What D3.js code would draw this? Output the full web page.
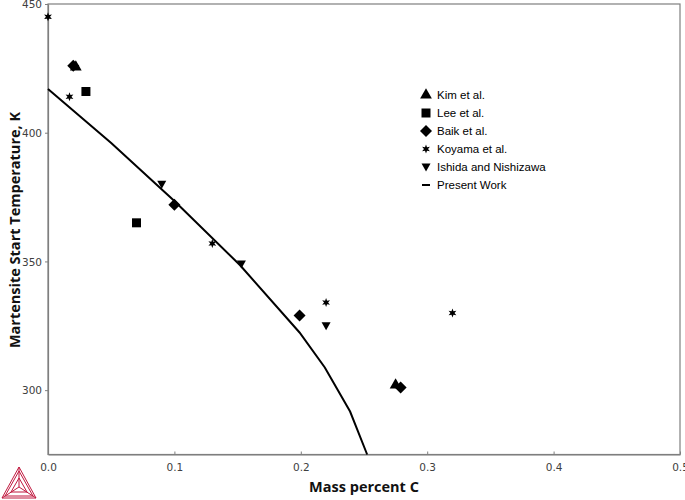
<!DOCTYPE html>
<html>
<head>
<meta charset="utf-8">
<script src="https://cdn.jsdelivr.net/npm/d3@7"></script>
<style>
  body { margin: 0; background: #fff; }
  svg { display: block; }
</style>
</head>
<body>
<svg id="chart" width="685" height="500"></svg>
<script>
// --- data (mass percent C, Ms in K)
const kim = [[0.022, 425.5], [0.275, 302]]
const lee = [[0.030, 416], [0.070, 365]]
const baik = [[0.020, 426], [0.100, 372], [0.199, 329], [0.279, 301]]
const koyama = [[0.000, 445], [0.017, 414], [0.130, 357], [0.220, 334], [0.320, 330]]
const ishida = [[0.090, 380], [0.153, 349], [0.220, 325]]
const presentWork = [[0.000, 417], [0.050, 396], [0.100, 373.5], [0.152, 348.5],
                     [0.199, 322.4], [0.219, 308.8], [0.239, 291.7], [0.2525, 275]]

const xTicks = [0, 0.1, 0.2, 0.3, 0.4, 0.5]
const yTicks = [300, 350, 400, 450]
const legendNames = ["Kim et al.", "Lee et al.", "Baik et al.", "Koyama et al.", "Ishida and Nishizawa", "Present Work"]

const svg = d3.select("#chart")
const plotLeft = 48, plotRight = 680, plotTop = 4, plotBottom = 454.5

const x = d3.scaleLinear().domain([0, 0.5]).range([plotLeft, plotRight])
const y = d3.scaleLinear().domain([275, 450]).range([plotBottom, plotTop])

// frame
svg.append("rect")
    .attr("x", plotLeft).attr("y", plotTop)
    .attr("width", plotRight - plotLeft).attr("height", plotBottom - plotTop)
    .attr("fill", "none").attr("stroke", "#7f7f7f").attr("stroke-width", 1.2)

// axes
const xAxis = d3.axisBottom(x).tickValues(xTicks).tickFormat(d3.format(".1f"))
    .tickSizeInner(-3).tickSizeOuter(0).tickPadding(9)
const gx = svg.append("g").attr("transform", `translate(0,${plotBottom})`).call(xAxis)

const yAxis = d3.axisLeft(y).tickValues(yTicks).tickSizeInner(3).tickSizeOuter(0).tickPadding(3)
const gy = svg.append("g").attr("transform", `translate(${plotLeft},0)`).call(yAxis)

for (const g of [gx, gy]) {
    g.select(".domain").attr("stroke", "#7f7f7f").attr("stroke-width", 1.2)
    g.selectAll(".tick line").attr("stroke", "#7f7f7f")
    g.selectAll(".tick text")
        .attr("fill", "#404040")
        .style("font-family", "'DejaVu Sans', sans-serif")
        .style("font-size", "10.5px")
}
gy.selectAll(".tick text").attr("dy", "0.35em")

// axis titles
svg.append("text")
    .attr("x", 364).attr("y", 492)
    .attr("text-anchor", "middle")
    .style("font-family", "'Open Sans', sans-serif")
    .style("font-weight", "bold")
    .style("font-size", "14.5px")
    .attr("fill", "#111")
    .text("Mass percent C")

svg.append("text")
    .attr("transform", "translate(20,230) rotate(-90)")
    .attr("text-anchor", "middle")
    .style("font-family", "'Open Sans', sans-serif")
    .style("font-weight", "bold")
    .style("font-size", "14.5px")
    .attr("fill", "#111")
    .text("Martensite Start Temperature, K")

// markers
function star6(r) {
    const pts = []
    for (let i = 0; i < 12; i++) {
        const a = -Math.PI / 2 + i * Math.PI / 6
        const rr = i % 2 === 0 ? r : r * 0.45
        pts.push([rr * Math.cos(a), rr * Math.sin(a)])
    }
    return "M" + pts.map(p => p.join(",")).join("L") + "Z"
}
const shapes = {
    kim: d3.symbol().type(d3.symbolTriangle).size(60)(),
    lee: "M-4.5,-4.5H4.5V4.5H-4.5Z",
    baik: "M0,-6L6,0L0,6L-6,0Z",
    koyama: star6(4.5),
    ishida: "M-4.5,-3.5H4.5L0,4.5Z"
}
const series = [
    { key: "kim", data: kim },
    { key: "lee", data: lee },
    { key: "baik", data: baik },
    { key: "koyama", data: koyama },
    { key: "ishida", data: ishida }
]

const line = d3.line().x(d => x(d[0])).y(d => y(d[1]))
svg.append("path")
    .datum(presentWork)
    .attr("d", line)
    .attr("fill", "none")
    .attr("stroke", "#000")
    .attr("stroke-width", 2)

for (const s of series) {
    svg.append("g").selectAll("path")
        .data(s.data)
        .join("path")
        .attr("d", shapes[s.key])
        .attr("transform", d => `translate(${x(d[0])},${y(d[1])})`)
        .attr("fill", "#000")
}

// legend
const legend = svg.append("g").attr("transform", "translate(426,95)")
legendNames.forEach((name, i) => {
    const g = legend.append("g").attr("transform", `translate(0,${i * 18})`)
    if (i < series.length) {
        g.append("path").attr("d", shapes[series[i].key]).attr("fill", "#000")
    } else {
        g.append("line").attr("x1", -4).attr("x2", 4).attr("stroke", "#000").attr("stroke-width", 2)
    }
    g.append("text")
        .attr("x", 11).attr("dy", "0.35em")
        .style("font-family", "'Liberation Sans', Arial, sans-serif")
        .style("font-size", "11.5px")
        .attr("fill", "#000")
        .text(name)
})

// logo
const logo = svg.append("g").attr("stroke", "#c0193f").attr("fill", "none").attr("stroke-width", 1)
const A = [19, 467], B = [2, 498], C = [36, 498], O = [19, 487]
logo.append("path").attr("d", `M${A}L${B}L${C}Z`)
logo.append("path").attr("d", `M${[19, 471]}L${[5, 496]}L${[33, 496]}Z`)
logo.append("path").attr("d", `M${[19, 478]}L${[11, 492]}L${[27, 492]}Z`)
logo.append("path").attr("d", `M${A}L${O}M${B}L${O}M${C}L${O}`)
</script>
</body>
</html>
